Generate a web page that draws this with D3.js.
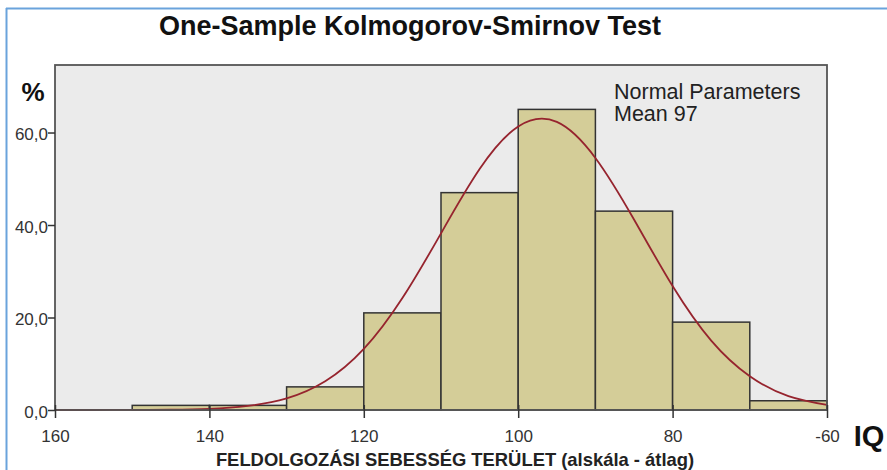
<!DOCTYPE html>
<html><head><meta charset="utf-8">
<script src="https://cdn.jsdelivr.net/npm/d3@7"></script>
<style>body{margin:0;background:#fff;}svg{display:block;font-family:"Liberation Sans",Arial,sans-serif;}</style>
</head><body>
<script>
// bins (IQ ranges) and percentages
const binStart = [150, 140, 130, 120, 110, 100, 90, 80, 70];
const binEnd   = [140, 130, 120, 110, 100, 90, 80, 70, 60];
const percents = [1, 1, 5, 21, 47, 65, 43, 19, 2];
// normal curve
const curveX = [160, 155, 150, 145, 140, 135, 130, 125, 120, 115, 110, 105, 100, 95, 90, 85, 80, 75, 70, 65, 60];
const curveY = [0, 0, 0.02, 0.07, 0.26, 0.9, 2.5, 6.2, 13.2, 24.2, 38.2, 52.1, 61.3, 62.3, 54.5, 41.2, 26.8, 15.0, 7.3, 3.0, 1.1];
const xTickValues = [160, 140, 120, 100, 80, 60];
const xTickLabels = ["160", "140", "120", "100", "80", "-60"];
const yTickValues = [0, 20, 40, 60];
const yTickLabels = ["0,0", "20,0", "40,0", "60,0"];
const titleText = "One-Sample Kolmogorov-Smirnov Test";
const xTitle = "FELDOLGOZÁSI SEBESSÉG TERÜLET (alskála - átlag)";
const legendLines = ["Normal Parameters", "Mean 97"];

const W = 887, H = 470;
const L = 55, R = 827, T = 65, B = 410;
const svg = d3.select("body").append("svg").attr("width", W).attr("height", H);

// frame lines (blue)
svg.append("line").attr("x1", 6).attr("x2", W).attr("y1", 8.5).attr("y2", 8.5).attr("stroke", "#6aa3dc").attr("stroke-width", 2);
svg.append("line").attr("x1", 6.5).attr("x2", 6.5).attr("y1", 8).attr("y2", H).attr("stroke", "#6aa3dc").attr("stroke-width", 2);

const x = d3.scaleLinear().domain([160, 60]).range([L, R]);
const y = d3.scaleLinear().domain([0, 74.6]).range([B, T]);

svg.append("rect").attr("x", L).attr("y", T).attr("width", R - L).attr("height", B - T).attr("fill", "#ebebeb");

const bars = binStart.map((s, i) => ({s, e: binEnd[i], v: percents[i]}));
svg.append("g").selectAll("rect").data(bars).join("rect")
  .attr("x", d => x(d.s)).attr("width", d => x(d.e) - x(d.s))
  .attr("y", d => y(d.v)).attr("height", d => y(0) - y(d.v))
  .attr("fill", "#d4cd98").attr("stroke", "#333").attr("stroke-width", 1.5);

const pts = curveX.map((v, i) => [v, curveY[i]]);
svg.append("path").datum(pts)
  .attr("d", d3.line().x(d => x(d[0])).y(d => y(d[1])).curve(d3.curveNatural))
  .attr("fill", "none").attr("stroke", "#96242e").attr("stroke-width", 1.8);

svg.append("rect").attr("x", L).attr("y", T).attr("width", R - L).attr("height", B - T)
  .attr("fill", "none").attr("stroke", "#555").attr("stroke-width", 1.8);

// axes
const xAxis = d3.axisBottom(x).tickValues(xTickValues).tickFormat((d, i) => xTickLabels[i]).tickSize(8).tickSizeOuter(0);
const gx = svg.append("g").attr("transform", `translate(0,${B})`).call(xAxis);
gx.select(".domain").remove();
gx.selectAll(".tick line").attr("stroke", "#333").attr("stroke-width", 1.5).attr("y1", -5);
gx.selectAll(".tick text").attr("font-size", 17).attr("fill", "#333").attr("font-family", "Liberation Sans, Arial")
  .attr("y", 32).attr("dy", 0);

const yAxis = d3.axisLeft(y).tickValues(yTickValues).tickFormat((d, i) => yTickLabels[i]).tickSize(7).tickSizeOuter(0);
const gy = svg.append("g").attr("transform", `translate(${L},0)`).call(yAxis);
gy.select(".domain").remove();
gy.selectAll(".tick line").attr("stroke", "#333").attr("stroke-width", 1.5);
gy.selectAll(".tick text").attr("font-size", 17).attr("fill", "#333").attr("font-family", "Liberation Sans, Arial").attr("x", -7).attr("dy", "0.42em");

// texts
svg.append("text").attr("x", 410).attr("y", 35).attr("text-anchor", "middle")
  .attr("font-size", 27).attr("font-weight", "bold").attr("fill", "#111").text(titleText);
svg.append("text").attr("x", 33).attr("y", 101).attr("text-anchor", "middle")
  .attr("font-size", 26).attr("font-weight", "bold").attr("fill", "#111").text("%");
svg.append("text").attr("x", 869).attr("y", 446).attr("text-anchor", "middle")
  .attr("font-size", 29).attr("font-weight", "bold").attr("fill", "#111").text("IQ");
svg.append("text").attr("x", 455).attr("y", 466).attr("text-anchor", "middle")
  .attr("font-size", 18.4).attr("font-weight", "bold").attr("fill", "#222").text(xTitle);
svg.append("g").selectAll("text").data(legendLines).join("text")
  .attr("x", 614).attr("y", (d, i) => 99 + i * 22)
  .attr("font-size", 21.5).attr("fill", "#222").text(d => d);
</script>
</body></html>
